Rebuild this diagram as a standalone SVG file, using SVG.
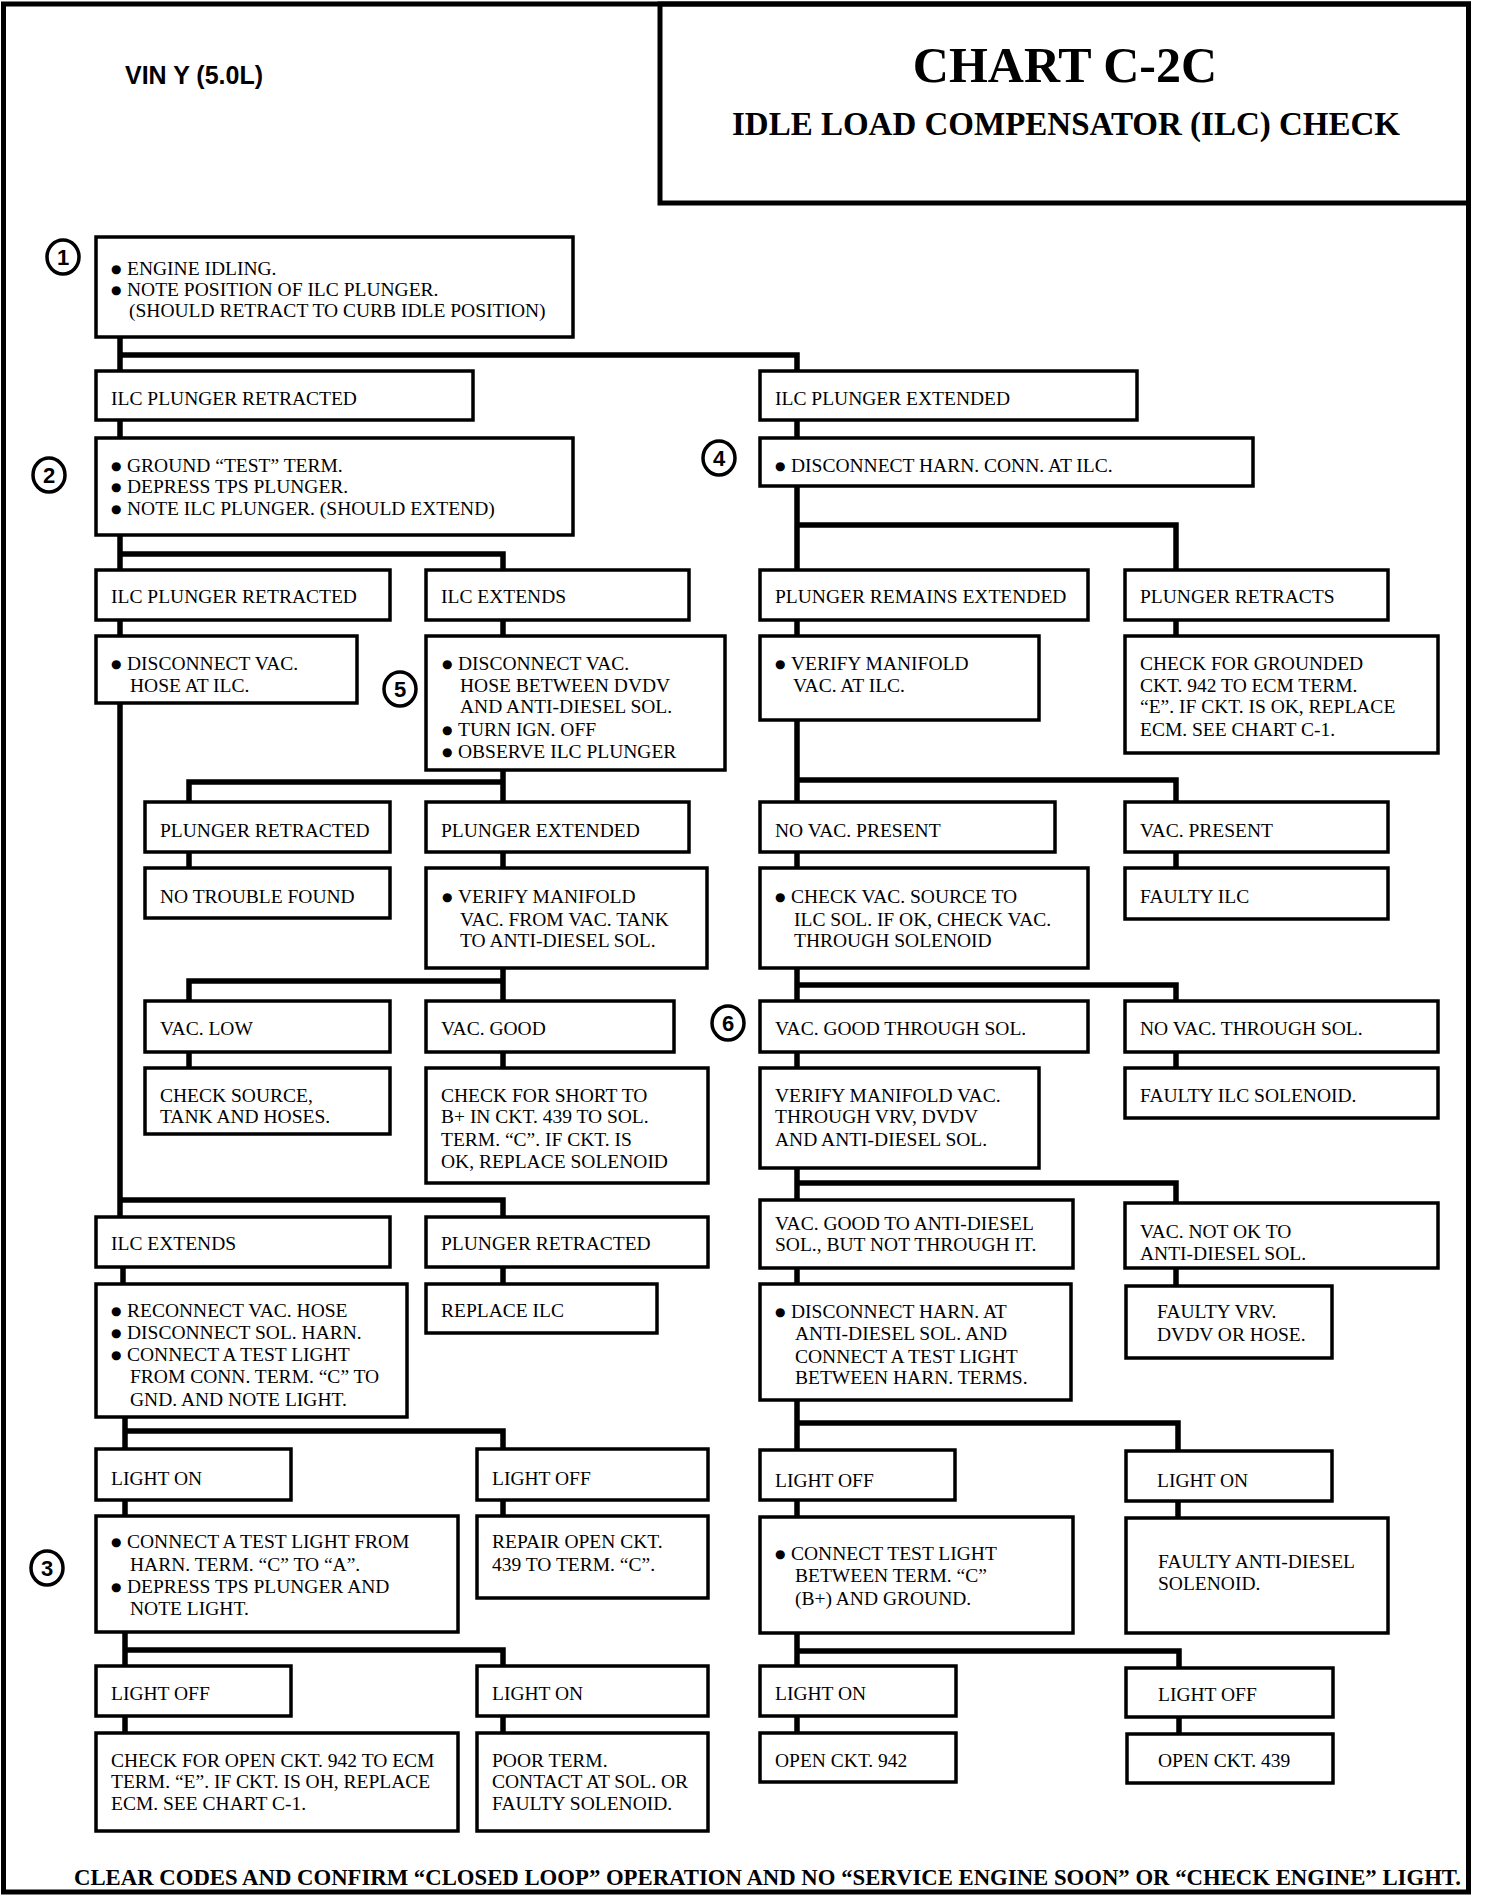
<svg xmlns="http://www.w3.org/2000/svg" width="1504" height="1902" viewBox="0 0 1504 1902">
<style>
.bg{fill:#fff}
.frame{fill:none;stroke:#000;stroke-width:5}
.box{fill:#fff;stroke:#000;stroke-width:3.5}
.num{fill:#fff;stroke:#000;stroke-width:3.5}
.t{font-family:"Liberation Serif","Times New Roman",serif;font-size:19.5px;fill:#000}
.b{font-family:"DejaVu Sans",sans-serif;font-size:12px}
.n{font-family:"Liberation Sans",Arial,sans-serif;font-weight:bold;font-size:22px;fill:#000;text-anchor:middle}
.conn{fill:none;stroke:#000;stroke-width:5.5;stroke-linejoin:miter}
</style>
<rect class="bg" x="0" y="0" width="1504" height="1902"/>
<rect class="frame" x="3.5" y="4" width="1465" height="1888"/>
<g id="title">
<rect class="frame" x="660" y="4" width="808.5" height="199"/>
<text x="1065" y="82" text-anchor="middle" style="font-family:'Liberation Serif','Times New Roman',serif;font-weight:bold;font-size:50px">CHART C-2C</text>
<text x="1066" y="135" text-anchor="middle" style="font-family:'Liberation Serif','Times New Roman',serif;font-weight:bold;font-size:33px">IDLE LOAD COMPENSATOR (ILC) CHECK</text>
</g>
<text id="vin" x="125" y="84" style="font-family:'Liberation Sans',Arial,sans-serif;font-weight:bold;font-size:25px">VIN Y (5.0L)</text>

<g id="connectors">
<path class="conn" d="M120,337 V371 M120,355 H797 V371"/>
<path class="conn" d="M120,420 V438 M797,420 V438"/>
<path class="conn" d="M120,535 V570 M120,554 H503 V570"/>
<path class="conn" d="M797,486 V570 M797,525 H1176 V570"/>
<path class="conn" d="M120,620 V636 M503,620 V636 M797,620 V636 M1176,620 V636"/>
<path class="conn" d="M120,703 V1217 M120,1200 H503 V1217"/>
<path class="conn" d="M503,770 V802 M503,782 H189 V802"/>
<path class="conn" d="M797,720 V802 M797,780 H1176 V802"/>
<path class="conn" d="M189,852 V868 M503,852 V868 M797,852 V868 M1176,852 V868"/>
<path class="conn" d="M503,968 V1001 M503,981 H189 V1001"/>
<path class="conn" d="M797,968 V1001 M797,985 H1176 V1001"/>
<path class="conn" d="M189,1052 V1068 M503,1052 V1068 M797,1052 V1068 M1176,1052 V1068"/>
<path class="conn" d="M797,1168 V1200 M797,1183 H1176 V1203"/>
<path class="conn" d="M123,1267 V1284 M503,1267 V1284 M797,1268 V1284 M1176,1268 V1286"/>
<path class="conn" d="M125,1417 V1449 M125,1431 H503 V1449"/>
<path class="conn" d="M797,1400 V1450 M797,1423 H1178 V1451"/>
<path class="conn" d="M125,1500 V1516 M503,1500 V1516 M797,1500 V1517 M1178,1501 V1518"/>
<path class="conn" d="M125,1632 V1666 M125,1650 H503 V1666"/>
<path class="conn" d="M797,1633 V1666 M797,1651 H1179 V1668"/>
<path class="conn" d="M125,1716 V1733 M503,1716 V1733 M797,1716 V1733 M1179,1717 V1734"/>
</g>

<g id="step1"><ellipse class="num" cx="63" cy="257" rx="16" ry="17"/><text class="n" x="63" y="265">1</text></g>
<g id="step2"><ellipse class="num" cx="49" cy="475" rx="16" ry="17"/><text class="n" x="49" y="483">2</text></g>
<g id="step3"><ellipse class="num" cx="47" cy="1568" rx="16" ry="17"/><text class="n" x="47" y="1576">3</text></g>
<g id="step4"><ellipse class="num" cx="719" cy="458" rx="16" ry="17"/><text class="n" x="719" y="466">4</text></g>
<g id="step5"><ellipse class="num" cx="400" cy="689" rx="16" ry="17"/><text class="n" x="400" y="697">5</text></g>
<g id="step6"><ellipse class="num" cx="728" cy="1023" rx="16" ry="17"/><text class="n" x="728" y="1031">6</text></g>

<g id="engine-idling"><rect class="box" x="96" y="237" width="477" height="100"/>
<text class="t"><tspan class="b" x="111" y="273">●</tspan><tspan x="127" y="275">ENGINE IDLING.</tspan><tspan class="b" x="111" y="294">●</tspan><tspan x="127" y="296">NOTE POSITION OF ILC PLUNGER.</tspan><tspan x="129" y="317">(SHOULD RETRACT TO CURB IDLE POSITION)</tspan></text></g>

<g id="ilc-retracted-1"><rect class="box" x="96" y="371" width="377" height="49"/><text class="t" x="111" y="405">ILC PLUNGER RETRACTED</text></g>
<g id="ilc-extended-1"><rect class="box" x="760" y="371" width="377" height="49"/><text class="t" x="775" y="405">ILC PLUNGER EXTENDED</text></g>

<g id="ground-test"><rect class="box" x="96" y="438" width="477" height="97"/>
<text class="t"><tspan class="b" x="111" y="470">●</tspan><tspan x="127" y="472">GROUND “TEST” TERM.</tspan><tspan class="b" x="111" y="491">●</tspan><tspan x="127" y="493">DEPRESS TPS PLUNGER.</tspan><tspan class="b" x="111" y="513">●</tspan><tspan x="127" y="515">NOTE ILC PLUNGER. (SHOULD EXTEND)</tspan></text></g>

<g id="disconnect-harn"><rect class="box" x="760" y="438" width="493" height="48"/>
<text class="t"><tspan class="b" x="775" y="470">●</tspan><tspan x="791" y="472">DISCONNECT HARN. CONN. AT ILC.</tspan></text></g>

<g id="ilc-retracted-2"><rect class="box" x="96" y="570" width="294" height="50"/><text class="t" x="111" y="603">ILC PLUNGER RETRACTED</text></g>
<g id="ilc-extends-1"><rect class="box" x="426" y="570" width="263" height="50"/><text class="t" x="441" y="603">ILC EXTENDS</text></g>
<g id="plunger-remains"><rect class="box" x="760" y="570" width="328" height="50"/><text class="t" x="775" y="603">PLUNGER REMAINS EXTENDED</text></g>
<g id="plunger-retracts"><rect class="box" x="1125" y="570" width="263" height="50"/><text class="t" x="1140" y="603">PLUNGER RETRACTS</text></g>

<g id="disconnect-vac"><rect class="box" x="96" y="636" width="261" height="67"/>
<text class="t"><tspan class="b" x="111" y="668">●</tspan><tspan x="127" y="670">DISCONNECT VAC.</tspan><tspan x="130" y="692">HOSE AT ILC.</tspan></text></g>
<g id="disconnect-vac-dvdv"><rect class="box" x="426" y="636" width="299" height="134"/>
<text class="t"><tspan class="b" x="442" y="668">●</tspan><tspan x="458" y="670">DISCONNECT VAC.</tspan><tspan x="460" y="692">HOSE BETWEEN DVDV</tspan><tspan x="460" y="713">AND ANTI-DIESEL SOL.</tspan><tspan class="b" x="442" y="734">●</tspan><tspan x="458" y="736">TURN IGN. OFF</tspan><tspan class="b" x="442" y="756">●</tspan><tspan x="458" y="758">OBSERVE ILC PLUNGER</tspan></text></g>
<g id="verify-manifold-ilc"><rect class="box" x="760" y="636" width="279" height="84"/>
<text class="t"><tspan class="b" x="775" y="668">●</tspan><tspan x="791" y="670">VERIFY MANIFOLD</tspan><tspan x="793" y="692">VAC. AT ILC.</tspan></text></g>
<g id="check-grounded"><rect class="box" x="1125" y="636" width="313" height="117"/>
<text class="t"><tspan x="1140" y="670">CHECK FOR GROUNDED</tspan><tspan x="1140" y="692">CKT. 942 TO ECM TERM.</tspan><tspan x="1140" y="713">“E”. IF CKT. IS OK, REPLACE</tspan><tspan x="1140" y="736">ECM. SEE CHART C-1.</tspan></text></g>

<g id="plunger-retracted-2"><rect class="box" x="145" y="802" width="245" height="50"/><text class="t" x="160" y="837">PLUNGER RETRACTED</text></g>
<g id="plunger-extended-2"><rect class="box" x="426" y="802" width="263" height="50"/><text class="t" x="441" y="837">PLUNGER EXTENDED</text></g>
<g id="no-vac-present"><rect class="box" x="760" y="802" width="295" height="50"/><text class="t" x="775" y="837">NO VAC. PRESENT</text></g>
<g id="vac-present"><rect class="box" x="1125" y="802" width="263" height="50"/><text class="t" x="1140" y="837">VAC. PRESENT</text></g>

<g id="no-trouble"><rect class="box" x="145" y="868" width="245" height="50"/><text class="t" x="160" y="903">NO TROUBLE FOUND</text></g>
<g id="verify-manifold-tank"><rect class="box" x="426" y="868" width="281" height="100"/>
<text class="t"><tspan class="b" x="442" y="901">●</tspan><tspan x="458" y="903">VERIFY MANIFOLD</tspan><tspan x="460" y="926">VAC. FROM VAC. TANK</tspan><tspan x="460" y="947">TO ANTI-DIESEL SOL.</tspan></text></g>
<g id="check-vac-source"><rect class="box" x="760" y="868" width="328" height="100"/>
<text class="t"><tspan class="b" x="775" y="901">●</tspan><tspan x="791" y="903">CHECK VAC. SOURCE TO</tspan><tspan x="794" y="926">ILC SOL. IF OK, CHECK VAC.</tspan><tspan x="794" y="947">THROUGH SOLENOID</tspan></text></g>
<g id="faulty-ilc"><rect class="box" x="1125" y="868" width="263" height="51"/><text class="t" x="1140" y="903">FAULTY ILC</text></g>

<g id="vac-low"><rect class="box" x="145" y="1001" width="245" height="51"/><text class="t" x="160" y="1035">VAC. LOW</text></g>
<g id="vac-good"><rect class="box" x="426" y="1001" width="248" height="51"/><text class="t" x="441" y="1035">VAC. GOOD</text></g>
<g id="vac-good-through"><rect class="box" x="760" y="1001" width="328" height="51"/><text class="t" x="775" y="1035">VAC. GOOD THROUGH SOL.</text></g>
<g id="no-vac-through"><rect class="box" x="1125" y="1001" width="313" height="51"/><text class="t" x="1140" y="1035">NO VAC. THROUGH SOL.</text></g>

<g id="check-source"><rect class="box" x="145" y="1068" width="245" height="66"/>
<text class="t"><tspan x="160" y="1102">CHECK SOURCE,</tspan><tspan x="160" y="1123">TANK AND HOSES.</tspan></text></g>
<g id="check-short"><rect class="box" x="426" y="1068" width="282" height="115"/>
<text class="t"><tspan x="441" y="1102">CHECK FOR SHORT TO</tspan><tspan x="441" y="1123">B+ IN CKT. 439 TO SOL.</tspan><tspan x="441" y="1146">TERM. “C”. IF CKT. IS</tspan><tspan x="441" y="1168">OK, REPLACE SOLENOID</tspan></text></g>
<g id="verify-through-vrv"><rect class="box" x="760" y="1068" width="279" height="100"/>
<text class="t"><tspan x="775" y="1102">VERIFY MANIFOLD VAC.</tspan><tspan x="775" y="1123">THROUGH VRV, DVDV</tspan><tspan x="775" y="1146">AND ANTI-DIESEL SOL.</tspan></text></g>
<g id="faulty-ilc-sol"><rect class="box" x="1125" y="1068" width="313" height="50"/><text class="t" x="1140" y="1102">FAULTY ILC SOLENOID.</text></g>

<g id="ilc-extends-2"><rect class="box" x="96" y="1217" width="294" height="50"/><text class="t" x="111" y="1250">ILC EXTENDS</text></g>
<g id="plunger-retracted-3"><rect class="box" x="426" y="1217" width="282" height="50"/><text class="t" x="441" y="1250">PLUNGER RETRACTED</text></g>
<g id="vac-good-anti"><rect class="box" x="760" y="1200" width="313" height="68"/>
<text class="t"><tspan x="775" y="1230">VAC. GOOD TO ANTI-DIESEL</tspan><tspan x="775" y="1251">SOL., BUT NOT THROUGH IT.</tspan></text></g>
<g id="vac-not-ok"><rect class="box" x="1125" y="1203" width="313" height="65"/>
<text class="t"><tspan x="1140" y="1238">VAC. NOT OK TO</tspan><tspan x="1140" y="1260">ANTI-DIESEL SOL.</tspan></text></g>

<g id="reconnect"><rect class="box" x="96" y="1284" width="311" height="133"/>
<text class="t"><tspan class="b" x="111" y="1315">●</tspan><tspan x="127" y="1317">RECONNECT VAC. HOSE</tspan><tspan class="b" x="111" y="1337">●</tspan><tspan x="127" y="1339">DISCONNECT SOL. HARN.</tspan><tspan class="b" x="111" y="1359">●</tspan><tspan x="127" y="1361">CONNECT A TEST LIGHT</tspan><tspan x="130" y="1383">FROM CONN. TERM. “C” TO</tspan><tspan x="130" y="1406">GND. AND NOTE LIGHT.</tspan></text></g>
<g id="replace-ilc"><rect class="box" x="426" y="1284" width="231" height="49"/><text class="t" x="441" y="1317">REPLACE ILC</text></g>
<g id="disconnect-harn-anti"><rect class="box" x="760" y="1284" width="311" height="116"/>
<text class="t"><tspan class="b" x="775" y="1316">●</tspan><tspan x="791" y="1318">DISCONNECT HARN. AT</tspan><tspan x="795" y="1340">ANTI-DIESEL SOL. AND</tspan><tspan x="795" y="1363">CONNECT A TEST LIGHT</tspan><tspan x="795" y="1384">BETWEEN HARN. TERMS.</tspan></text></g>
<g id="faulty-vrv"><rect class="box" x="1126" y="1286" width="206" height="72"/>
<text class="t"><tspan x="1157" y="1318">FAULTY VRV.</tspan><tspan x="1157" y="1341">DVDV OR HOSE.</tspan></text></g>

<g id="light-on-1"><rect class="box" x="96" y="1449" width="195" height="51"/><text class="t" x="111" y="1485">LIGHT ON</text></g>
<g id="light-off-1"><rect class="box" x="477" y="1449" width="231" height="51"/><text class="t" x="492" y="1485">LIGHT OFF</text></g>
<g id="light-off-2"><rect class="box" x="760" y="1450" width="195" height="50"/><text class="t" x="775" y="1487">LIGHT OFF</text></g>
<g id="light-on-2"><rect class="box" x="1126" y="1451" width="206" height="50"/><text class="t" x="1157" y="1487">LIGHT ON</text></g>

<g id="connect-test-harn"><rect class="box" x="96" y="1516" width="362" height="116"/>
<text class="t"><tspan class="b" x="111" y="1546">●</tspan><tspan x="127" y="1548">CONNECT A TEST LIGHT FROM</tspan><tspan x="130" y="1571">HARN. TERM. “C” TO “A”.</tspan><tspan class="b" x="111" y="1591">●</tspan><tspan x="127" y="1593">DEPRESS TPS PLUNGER AND</tspan><tspan x="130" y="1615">NOTE LIGHT.</tspan></text></g>
<g id="repair-open"><rect class="box" x="477" y="1516" width="231" height="82"/>
<text class="t"><tspan x="492" y="1548">REPAIR OPEN CKT.</tspan><tspan x="492" y="1571">439 TO TERM. “C”.</tspan></text></g>
<g id="connect-test-term"><rect class="box" x="760" y="1517" width="313" height="116"/>
<text class="t"><tspan class="b" x="775" y="1558">●</tspan><tspan x="791" y="1560">CONNECT TEST LIGHT</tspan><tspan x="795" y="1582">BETWEEN TERM. “C”</tspan><tspan x="795" y="1605">(B+) AND GROUND.</tspan></text></g>
<g id="faulty-anti-diesel"><rect class="box" x="1126" y="1518" width="262" height="115"/>
<text class="t"><tspan x="1158" y="1568">FAULTY ANTI-DIESEL</tspan><tspan x="1158" y="1590">SOLENOID.</tspan></text></g>

<g id="light-off-3"><rect class="box" x="96" y="1666" width="195" height="50"/><text class="t" x="111" y="1700">LIGHT OFF</text></g>
<g id="light-on-3"><rect class="box" x="477" y="1666" width="231" height="50"/><text class="t" x="492" y="1700">LIGHT ON</text></g>
<g id="light-on-4"><rect class="box" x="760" y="1666" width="196" height="50"/><text class="t" x="775" y="1700">LIGHT ON</text></g>
<g id="light-off-4"><rect class="box" x="1126" y="1668" width="207" height="49"/><text class="t" x="1158" y="1701">LIGHT OFF</text></g>

<g id="check-open-942"><rect class="box" x="96" y="1733" width="362" height="98"/>
<text class="t"><tspan x="111" y="1767">CHECK FOR OPEN CKT. 942 TO ECM</tspan><tspan x="111" y="1788">TERM. “E”. IF CKT. IS OH, REPLACE</tspan><tspan x="111" y="1810">ECM. SEE CHART C-1.</tspan></text></g>
<g id="poor-term"><rect class="box" x="477" y="1733" width="231" height="98"/>
<text class="t"><tspan x="492" y="1767">POOR TERM.</tspan><tspan x="492" y="1788">CONTACT AT SOL. OR</tspan><tspan x="492" y="1810">FAULTY SOLENOID.</tspan></text></g>
<g id="open-942"><rect class="box" x="760" y="1733" width="196" height="49"/><text class="t" x="775" y="1767">OPEN CKT. 942</text></g>
<g id="open-439"><rect class="box" x="1127" y="1734" width="206" height="49"/><text class="t" x="1158" y="1767">OPEN CKT. 439</text></g>

<text id="footer" x="74" y="1885" textLength="1387" lengthAdjust="spacingAndGlyphs" style="font-family:'Liberation Serif','Times New Roman',serif;font-weight:bold;font-size:22.5px">CLEAR CODES AND CONFIRM “CLOSED LOOP” OPERATION AND NO “SERVICE ENGINE SOON” OR “CHECK ENGINE” LIGHT.</text>
</svg>
